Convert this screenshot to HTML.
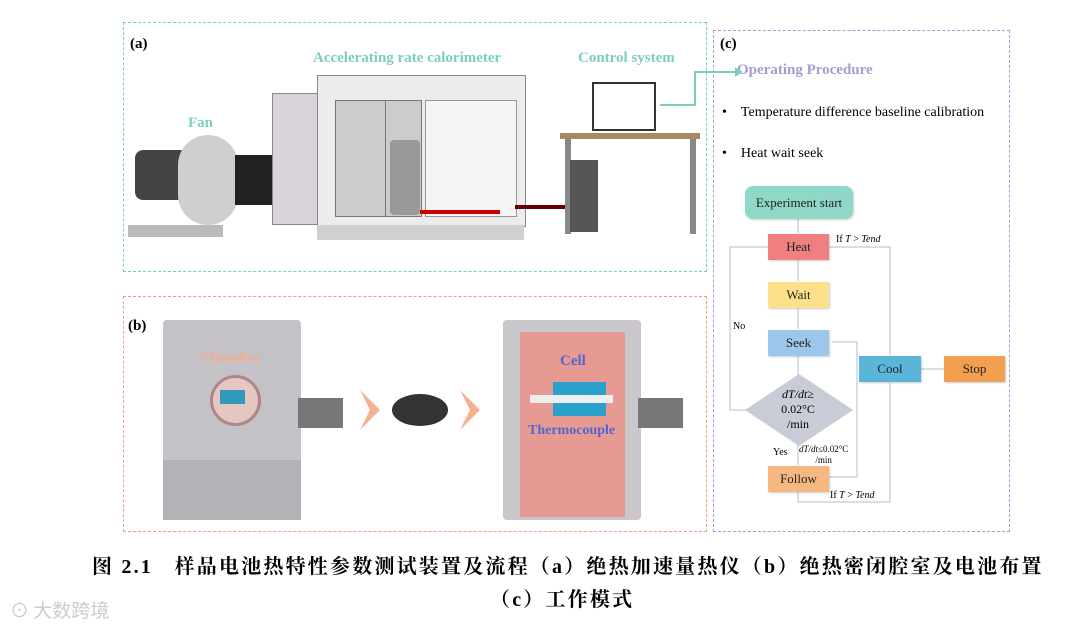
<!DOCTYPE html>
<html><head><meta charset="utf-8"><style>
body{margin:0;width:1080px;height:629px;background:#fff;position:relative;overflow:hidden;font-family:"Liberation Serif","Noto Serif CJK SC",serif}
.a{position:absolute}
.box{position:absolute;display:flex;align-items:center;justify-content:center;font-size:13px;color:#222;box-shadow:1px 1px 2px rgba(0,0,0,.2)}
.t{position:absolute;white-space:nowrap}
</style></head><body>
<div class="a" style="left:123px;top:22px;width:582px;height:248px;border:1.5px dashed #7ccfc0"></div>
<div class="a" style="left:123px;top:296px;width:582px;height:234px;border:1.5px dashed #f0a080"></div>
<div class="a" style="left:713px;top:30px;width:295px;height:500px;border:1.5px dashed #a99ad0"></div>
<div class="t" style="left:130px;top:36px;font-weight:bold;font-size:15px">(a)</div>
<div class="t" style="left:128px;top:318px;font-weight:bold;font-size:15px">(b)</div>
<div class="t" style="left:720px;top:36px;font-weight:bold;font-size:15px">(c)</div>
<div class="t" style="left:313px;top:50px;font-weight:bold;font-size:15px;color:#7ccfc0">Accelerating rate calorimeter</div>
<div class="t" style="left:578px;top:50px;font-weight:bold;font-size:15px;color:#7ccfc0">Control system</div>
<div class="t" style="left:188px;top:115px;font-weight:bold;font-size:15px;color:#7ccfc0">Fan</div>
<div class="t" style="left:737px;top:62px;font-weight:bold;font-size:15px;color:#a99ad0">Operating Procedure</div>
<svg class="a" style="left:655px;top:60px" width="90" height="50"><polyline points="5,45 40,45 40,12 80,12" fill="none" stroke="#7ccfc0" stroke-width="2"/><polygon points="80,7 88,12 80,17" fill="#7ccfc0"/></svg>
<div class="t" style="left:722px;top:105px;font-size:14px">•&nbsp;&nbsp;&nbsp;&nbsp;Temperature difference baseline calibration</div>
<div class="t" style="left:722px;top:146px;font-size:14px">•&nbsp;&nbsp;&nbsp;&nbsp;Heat wait seek</div>
<div class="a" style="left:128px;top:225px;width:95px;height:12px;background:#bbb"></div>
<div class="a" style="left:135px;top:150px;width:60px;height:50px;background:#444;border-radius:8px"></div>
<div class="a" style="left:178px;top:135px;width:60px;height:90px;background:#cfcfcf;border-radius:30px"></div>
<div class="a" style="left:235px;top:155px;width:40px;height:50px;background:#222"></div>
<div class="a" style="left:272px;top:93px;width:45px;height:130px;background:#d9d4dc;border:1px solid #888"></div>
<div class="a" style="left:317px;top:75px;width:207px;height:150px;background:#ececec;border:1px solid #888"></div>
<div class="a" style="left:335px;top:100px;width:50px;height:115px;background:#ccc;border:1px solid #777"></div>
<div class="a" style="left:385px;top:100px;width:35px;height:115px;background:#ccc;border:1px solid #777"></div>
<div class="a" style="left:390px;top:140px;width:30px;height:75px;background:#999;border-radius:4px"></div>
<div class="a" style="left:425px;top:100px;width:90px;height:115px;background:#f5f5f5;border:1px solid #999"></div>
<div class="a" style="left:420px;top:210px;width:80px;height:4px;background:#c00"></div>
<div class="a" style="left:515px;top:205px;width:60px;height:4px;background:#600"></div>
<div class="a" style="left:317px;top:225px;width:207px;height:15px;background:#d0d0d0"></div>
<div class="a" style="left:592px;top:82px;width:60px;height:45px;background:#fff;border:2px solid #333"></div>
<div class="a" style="left:560px;top:133px;width:140px;height:6px;background:#a86"></div>
<div class="a" style="left:565px;top:139px;width:6px;height:95px;background:#888"></div>
<div class="a" style="left:690px;top:139px;width:6px;height:95px;background:#888"></div>
<div class="a" style="left:570px;top:160px;width:28px;height:72px;background:#555"></div>
<div class="a" style="left:163px;top:320px;width:138px;height:200px;background:#c4c1c7;border-radius:4px"></div>
<div class="a" style="left:163px;top:460px;width:138px;height:60px;background:#b4b1b7"></div>
<div class="a" style="left:210px;top:375px;width:45px;height:45px;border-radius:50%;background:#e6c6c0;border:3px solid #a88"></div>
<div class="a" style="left:220px;top:390px;width:25px;height:14px;background:#39b"></div>
<div class="t" style="left:200px;top:350px;font-weight:bold;font-size:15px;color:#f0b090">Chamber</div>
<div class="a" style="left:298px;top:398px;width:45px;height:30px;background:#777"></div>
<svg class="a" style="left:355px;top:385px" width="130" height="50"><polygon points="5,5 25,25 5,45 15,25" fill="#f6b090"/><polygon points="105,5 125,25 105,45 115,25" fill="#f6b090"/><ellipse cx="65" cy="25" rx="28" ry="16" fill="#333"/></svg>
<div class="a" style="left:503px;top:320px;width:138px;height:200px;background:#c9c6cc;border-radius:4px"></div>
<div class="a" style="left:520px;top:332px;width:105px;height:185px;background:#e79a92"></div>
<div class="a" style="left:553px;top:382px;width:53px;height:34px;background:#2aa0cc"></div>
<div class="a" style="left:530px;top:395px;width:83px;height:8px;background:#eee"></div>
<div class="t" style="left:560px;top:353px;font-weight:bold;font-size:15px;color:#5566cc">Cell</div>
<div class="t" style="left:528px;top:423px;font-weight:bold;font-size:14px;color:#5566cc">Thermocouple</div>
<div class="a" style="left:638px;top:398px;width:45px;height:30px;background:#777"></div>
<svg class="a" style="left:715px;top:180px" width="300" height="330" fill="none" stroke="#c8d4e0" stroke-width="1.5">
<line x1="83" y1="39" x2="83" y2="53"/><line x1="83" y1="80" x2="83" y2="101"/><line x1="83" y1="128" x2="83" y2="149"/><line x1="83" y1="176" x2="83" y2="195"/><line x1="83" y1="265" x2="83" y2="285"/>
<polyline points="33,230 15,230 15,67 53,67"/><polyline points="114,67 175,67 175,175"/>
<polyline points="114,297 142,297 142,162 117,162"/><polyline points="83,312 83,322 175,322 175,203"/><line x1="206" y1="189" x2="229" y2="189"/>
</svg>
<div class="box" style="left:745px;top:186px;width:108px;height:33px;background:#8fd8c8;border-radius:8px">Experiment start</div>
<div class="box" style="left:768px;top:234px;width:61px;height:26px;background:#f08080">Heat</div>
<div class="box" style="left:768px;top:282px;width:61px;height:26px;background:#fde08a">Wait</div>
<div class="box" style="left:768px;top:330px;width:61px;height:26px;background:#9cc6ea">Seek</div>
<div class="box" style="left:859px;top:356px;width:62px;height:26px;background:#5ab6d8">Cool</div>
<div class="box" style="left:944px;top:356px;width:61px;height:26px;background:#f2a050">Stop</div>
<div class="box" style="left:768px;top:466px;width:61px;height:26px;background:#f6b880">Follow</div>
<svg class="a" style="left:745px;top:374px" width="108" height="72"><polygon points="54,0 108,36 54,72 0,36" fill="#c9ccd6"/></svg>
<div class="t" style="left:777px;top:387px;font-size:12px;line-height:15px;text-align:center;width:42px"><i>dT/dt</i>≥<br>0.02°C<br>/min</div>
<div class="t" style="left:836px;top:234px;font-size:10px">If <i>T</i> &gt; <i>Tend</i></div>
<div class="t" style="left:830px;top:490px;font-size:10px">If <i>T</i> &gt; <i>Tend</i></div>
<div class="t" style="left:733px;top:321px;font-size:10px">No</div>
<div class="t" style="left:773px;top:447px;font-size:10px">Yes</div>
<div class="t" style="left:799px;top:444px;font-size:9px;line-height:11px;text-align:center"><i>dT/dt</i>≤0.02°C<br>/min</div>
<div class="t" style="left:92px;top:550px;font-weight:bold;font-size:20px;letter-spacing:2.2px">图 2.1&nbsp;&nbsp;&nbsp;样品电池热特性参数测试装置及流程（a）绝热加速量热仪（b）绝热密闭腔室及电池布置</div>
<div class="t" style="left:490px;top:583px;font-weight:bold;font-size:20px;letter-spacing:2.2px">（c）工作模式</div>
<div class="t" style="left:10px;top:596px;font-size:19px;color:#ccc;font-family:'Noto Sans CJK SC',sans-serif">⊙ 大数跨境</div>
</body></html>
